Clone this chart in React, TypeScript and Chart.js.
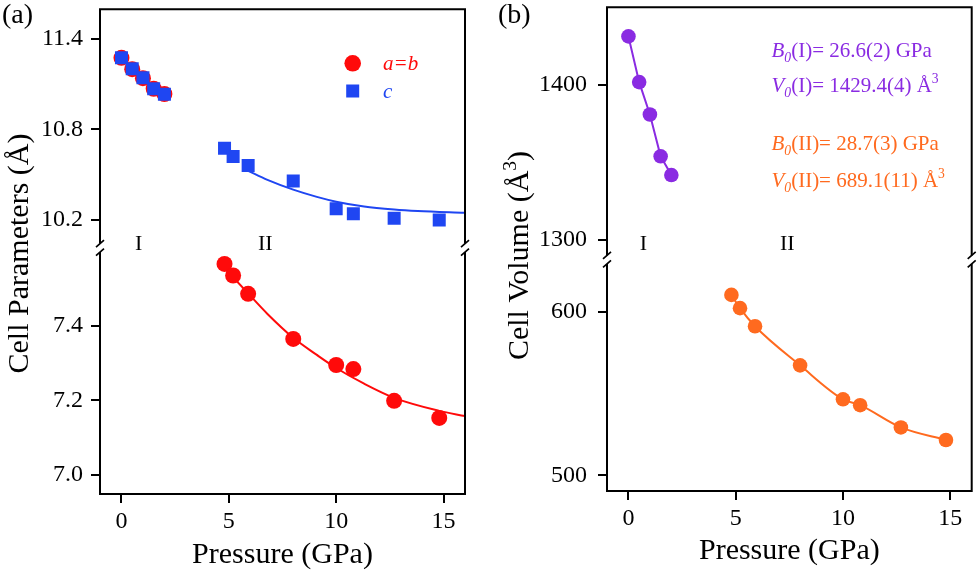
import React, { useEffect, useRef } from 'react';
import { Chart, registerables } from 'chart.js';
Chart.register(...registerables);
Chart.defaults.font.family = '"Liberation Serif", "Times New Roman", serif';

// ---------- data ----------
const xTicks = [0, 5, 10, 15];
const pressureI = [0, 0.5, 1.0, 1.5, 2.0];
const pressureII = [4.8, 5.2, 5.9, 8.0, 10.0, 10.8, 12.7, 14.8];

// panel (a): lattice parameters (Å)
const abPhaseI = [11.275, 11.2, 11.14, 11.07, 11.035];
const cPhaseI = [11.275, 11.202, 11.143, 11.07, 11.033];
const abPhaseII = [7.566, 7.535, 7.486, 7.365, 7.295, 7.284, 7.199, 7.153];
const cPhaseII = [10.675, 10.62, 10.561, 10.457, 10.273, 10.24, 10.211, 10.198];
const abFitP = [4.8, 5.9, 6.8, 8.0, 9.1, 10.0, 11.3, 12.7, 14.8, 16];
const abFitV = [7.555, 7.487, 7.432, 7.368, 7.322, 7.287, 7.245, 7.207, 7.172, 7.158];
const cFitP = [5.9, 6.8, 8.0, 9.1, 10.0, 11.3, 12.7, 13.8, 16];
const cFitV = [10.525, 10.465, 10.4, 10.352, 10.32, 10.288, 10.268, 10.258, 10.246];
const aTopTicks = [10.2, 10.8, 11.4];
const aBotTicks = [7.0, 7.2, 7.4];

// panel (b): cell volume (Å^3)
const volPhaseI = [1431.2, 1401.7, 1380.8, 1353.8, 1341.7];
const volPhaseII = [610.5, 602.4, 591.3, 567.4, 546.6, 543.0, 529.4, 521.7];
const bTopTicks = [1300, 1400];
const bBotTicks = [500, 600];

const phaseLabels = ['I', 'II'];
const phaseLabelPosA = [0.8, 6.7];
const phaseLabelPosB = [0.7, 7.4];

// ---------- colours ----------
const RED = '#FF0A0A';
const BLUE = '#1F46F2';
const PURPLE = '#8A2BE2';
const ORANGE = '#FF6A1F';
const FONT = '"Liberation Serif", "Times New Roman", serif';

type Seg = { t: string; italic?: boolean; sub?: boolean; sup?: boolean };

function segFont(s: Seg, size: number) {
  const fs = s.sub || s.sup ? size * 0.65 : size;
  return `${s.italic ? 'italic ' : ''}${fs}px ${FONT}`;
}
function measureRich(ctx: CanvasRenderingContext2D, segs: Seg[], size: number) {
  let w = 0;
  for (const s of segs) {
    ctx.font = segFont(s, size);
    w += ctx.measureText(s.t).width;
  }
  return w;
}
function drawRich(ctx: CanvasRenderingContext2D, segs: Seg[], x: number, y: number, size: number, color: string) {
  let cx = x;
  ctx.fillStyle = color;
  ctx.textAlign = 'left';
  ctx.textBaseline = 'alphabetic';
  for (const s of segs) {
    ctx.font = segFont(s, size);
    const dy = s.sub ? size * 0.25 : s.sup ? -size * 0.42 : 0;
    ctx.fillText(s.t, cx, y + dy);
    cx += ctx.measureText(s.t).width;
  }
}
function drawYTitle(ctx: CanvasRenderingContext2D, segs: Seg[], cx: number, cy: number, size: number) {
  ctx.save();
  ctx.translate(cx, cy);
  ctx.rotate(-Math.PI / 2);
  const w = measureRich(ctx, segs, size);
  drawRich(ctx, segs, -w / 2, size * 0.34, size, '#000');
  ctx.restore();
}

function drawFrame(chart: any) {
  const { ctx, chartArea } = chart;
  const { left, right, top, bottom } = chartArea;
  const by = chart.scales.yTop.bottom;
  const g1 = 4.5;
  const g2 = 4;
  ctx.save();
  ctx.strokeStyle = '#000';
  ctx.lineWidth = 2;
  ctx.beginPath();
  ctx.moveTo(left - 1, top);
  ctx.lineTo(right + 1, top);
  ctx.moveTo(left - 1, bottom);
  ctx.lineTo(right + 1, bottom);
  for (const x of [left, right]) {
    ctx.moveTo(x, top);
    ctx.lineTo(x, by - g1);
    ctx.moveTo(x, by + g2);
    ctx.lineTo(x, bottom);
  }
  ctx.stroke();
  ctx.lineWidth = 1.7;
  ctx.beginPath();
  for (const x of [left, right]) {
    for (const cy of [by - g1, by + g2]) {
      ctx.moveTo(x - 4, cy + 3.5);
      ctx.lineTo(x + 4, cy - 3.5);
    }
  }
  ctx.stroke();
  ctx.restore();
}

function drawPhaseLabels(chart: any, pos: number[], yVal: number) {
  const { ctx } = chart;
  ctx.save();
  ctx.fillStyle = '#000';
  ctx.font = `22px ${FONT}`;
  ctx.textAlign = 'center';
  ctx.textBaseline = 'middle';
  phaseLabels.forEach((t, i) => {
    ctx.fillText(t, chart.scales.x.getPixelForValue(pos[i]), chart.scales.yTop.getPixelForValue(yVal));
  });
  ctx.restore();
}

const pts = (xs: number[], ys: number[]) => xs.map((x, i) => ({ x, y: ys[i] }));

function yAxis(stack: string, weight: number, min: number, max: number, ticks: number[], width: number, pad: number, digits: number) {
  return {
    type: 'linear',
    position: 'left',
    stack,
    stackWeight: weight,
    min,
    max,
    afterBuildTicks: (s: any) => {
      s.ticks = ticks.map((v) => ({ value: v }));
    },
    afterFit: (s: any) => {
      s.width = width;
      s.paddingTop = 0;
      s.paddingBottom = 0;
    },
    ticks: { font: { size: 24 }, color: '#000', padding: pad, callback: (v: number) => v.toFixed(digits) },
    grid: { drawOnChartArea: false, tickLength: 9, color: '#000', lineWidth: 2 },
    border: { display: false },
  };
}

function xAxis(height: number, titlePad: number) {
  return {
    type: 'linear',
    position: 'bottom',
    min: -1,
    max: 16,
    afterBuildTicks: (s: any) => {
      s.ticks = xTicks.map((v) => ({ value: v }));
    },
    afterFit: (s: any) => {
      s.height = height;
      s.paddingLeft = 0;
      s.paddingRight = 0;
    },
    ticks: { font: { size: 24 }, color: '#000', padding: 4.5, maxRotation: 0, autoSkip: false, callback: (v: number) => String(v) },
    grid: { drawOnChartArea: false, tickLength: 9, color: '#000', lineWidth: 2 },
    border: { display: false },
    title: { display: true, text: 'Pressure (GPa)', font: { size: 30 }, color: '#000', padding: { top: 0, bottom: titlePad } },
  };
}

function configA(): any {
  return {
    type: 'scatter',
    data: {
      datasets: [
        { data: pts(pressureI, cPhaseI), yAxisID: 'yTop', pointStyle: 'rect', pointRadius: 9.2, backgroundColor: BLUE, borderWidth: 0, order: 0 },
        { data: pts(pressureII, cPhaseII), yAxisID: 'yTop', pointStyle: 'rect', pointRadius: 9.2, backgroundColor: BLUE, borderWidth: 0, order: 1 },
        { data: pts(pressureI, abPhaseI), yAxisID: 'yTop', pointStyle: 'circle', pointRadius: 8, backgroundColor: RED, borderWidth: 0, order: 2 },
        { data: pts(pressureII, abPhaseII), yAxisID: 'yBot', pointStyle: 'circle', pointRadius: 8, backgroundColor: RED, borderWidth: 0, order: 3 },
        { data: pts(cFitP, cFitV), yAxisID: 'yTop', showLine: true, pointRadius: 0, borderColor: BLUE, borderWidth: 2, cubicInterpolationMode: 'monotone', order: 4 },
        { data: pts(abFitP, abFitV), yAxisID: 'yBot', showLine: true, pointRadius: 0, borderColor: RED, borderWidth: 2, cubicInterpolationMode: 'monotone', order: 5 },
      ],
    },
    options: {
      responsive: false,
      animation: false,
      layout: { padding: { left: 0, right: 25, top: 6, bottom: 0 } },
      plugins: { legend: { display: false }, tooltip: { enabled: false } },
      scales: {
        x: xAxis(79, 0),
        yBot: yAxis('y', 247.5, 6.949, 7.6085, aBotTicks, 100, 8, 1),
        yTop: yAxis('y', 240.5, 10.012, 11.598, aTopTicks, 100, 8, 1),
      },
    },
    plugins: [
      {
        id: 'decorA',
        afterDraw(chart: any) {
          const ctx = chart.ctx;
          drawFrame(chart);
          drawPhaseLabels(chart, phaseLabelPosA, 10.04);
          drawYTitle(ctx, [{ t: 'Cell Parameters (Å)' }], 18, 253.5, 30);
          ctx.save();
          ctx.fillStyle = '#000';
          ctx.font = `28px ${FONT}`;
          ctx.textAlign = 'left';
          ctx.textBaseline = 'middle';
          ctx.fillText('(a)', 2, 16);
          // legend
          ctx.fillStyle = RED;
          ctx.beginPath();
          ctx.arc(352.7, 63.3, 8.3, 0, Math.PI * 2);
          ctx.fill();
          ctx.fillStyle = BLUE;
          ctx.fillRect(352.7 - 6.5, 91 - 6.5, 13, 13);
          ctx.restore();
          drawRich(ctx, [{ t: 'a=b', italic: true }], 383, 70, 21, RED);
          drawRich(ctx, [{ t: 'c', italic: true }], 383, 98, 21, BLUE);
        },
      },
    ],
  };
}

function configB(): any {
  return {
    type: 'scatter',
    data: {
      datasets: [
        { data: pts(pressureI, volPhaseI), yAxisID: 'yTop', showLine: true, pointStyle: 'circle', pointRadius: 7.3, backgroundColor: PURPLE, borderColor: PURPLE, borderWidth: 2, pointBorderWidth: 0, order: 0 },
        { data: pts(pressureII, volPhaseII), yAxisID: 'yBot', showLine: true, pointStyle: 'circle', pointRadius: 7.3, backgroundColor: ORANGE, borderColor: ORANGE, borderWidth: 2, pointBorderWidth: 0, cubicInterpolationMode: 'monotone', order: 1 },
      ],
    },
    options: {
      responsive: false,
      animation: false,
      layout: { padding: { left: 0, right: 6, top: 4, bottom: 0 } },
      plugins: { legend: { display: false }, tooltip: { enabled: false } },
      scales: {
        x: xAxis(82, 4),
        yBot: yAxis('y', 232.8, 490.5, 631.9, bBotTicks, 117, 11, 0),
        yTop: yAxis('y', 254.5, 1286.9, 1450, bTopTicks, 117, 11, 0),
      },
    },
    plugins: [
      {
        id: 'decorB',
        afterDraw(chart: any) {
          const ctx = chart.ctx;
          drawFrame(chart);
          drawPhaseLabels(chart, phaseLabelPosB, 1297);
          drawYTitle(ctx, [{ t: 'Cell Volume (Å' }, { t: '3', sup: true }, { t: ')' }], 28.2, 255.5, 30);
          ctx.save();
          ctx.fillStyle = '#000';
          ctx.font = `28px ${FONT}`;
          ctx.textAlign = 'left';
          ctx.textBaseline = 'middle';
          ctx.fillText('(b)', 8, 16);
          ctx.restore();
          const size = 21;
          const x0 = 281.5;
          drawRich(ctx, [{ t: 'B', italic: true }, { t: '0', italic: true, sub: true }, { t: '(I)= 26.6(2) GPa' }], x0, 56.7, size, PURPLE);
          drawRich(ctx, [{ t: 'V', italic: true }, { t: '0', italic: true, sub: true }, { t: '(I)= 1429.4(4) Å' }, { t: '3', sup: true }], x0, 91.7, size, PURPLE);
          drawRich(ctx, [{ t: 'B', italic: true }, { t: '0', italic: true, sub: true }, { t: '(II)= 28.7(3) GPa' }], x0, 150, size, ORANGE);
          drawRich(ctx, [{ t: 'V', italic: true }, { t: '0', italic: true, sub: true }, { t: '(II)= 689.1(11) Å' }, { t: '3', sup: true }], x0, 186.7, size, ORANGE);
        },
      },
    ],
  };
}

function ChartCanvas({ make, left, width }: { make: () => any; left: number; width: number }) {
  const ref = useRef<HTMLCanvasElement>(null);
  useEffect(() => {
    if (!ref.current) return;
    const chart = new Chart(ref.current, make());
    return () => chart.destroy();
  }, [make]);
  return <canvas ref={ref} width={width} height={573} style={{ position: 'absolute', left, top: 0, width, height: 573 }} />;
}

export default function App() {
  return (
    <div style={{ position: 'absolute', left: 0, top: 0, width: 979, height: 573, background: '#fff' }}>
      <ChartCanvas make={configA} left={0} width={490} />
      <ChartCanvas make={configB} left={490} width={489} />
    </div>
  );
}
